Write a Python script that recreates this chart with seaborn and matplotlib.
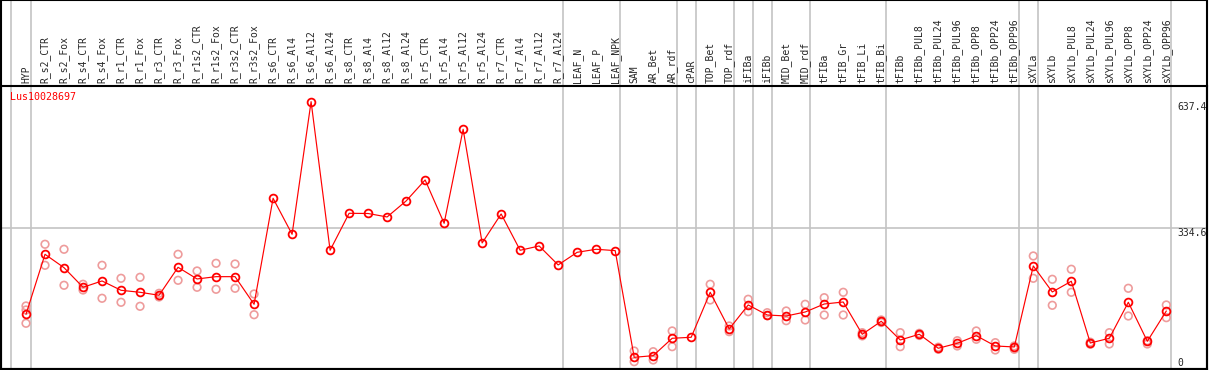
import numpy as np
import pandas as pd
import matplotlib
matplotlib.use('Agg')
import matplotlib.pyplot as plt
import seaborn as sns

nan = np.nan

# samples (x axis, written on top)
samples = ['HYP', 'R_s2_CTR', 'R_s2_Fox', 'R_s4_CTR', 'R_s4_Fox', 'R_r1_CTR', 'R_r1_Fox',
           'R_r3_CTR', 'R_r3_Fox', 'R_r1s2_CTR', 'R_r1s2_Fox', 'R_r3s2_CTR', 'R_r3s2_Fox',
           'R_s6_CTR', 'R_s6_Al4', 'R_s6_Al12', 'R_s6_Al24', 'R_s8_CTR', 'R_s8_Al4', 'R_s8_Al12',
           'R_s8_Al24', 'R_r5_CTR', 'R_r5_Al4', 'R_r5_Al12', 'R_r5_Al24', 'R_r7_CTR', 'R_r7_Al4',
           'R_r7_Al12', 'R_r7_Al24', 'LEAF_N', 'LEAF_P', 'LEAF_NPK', 'SAM', 'AR_Bet', 'AR_rdf',
           'cPAR', 'TOP_Bet', 'TOP_rdf', 'iFIBa', 'iFIBb', 'MID_Bet', 'MID_rdf', 'tFIBa',
           'tFIB_Gr', 'tFIB_Li', 'tFIB_Bi', 'tFIBb', 'tFIBb_PUL8', 'tFIBb_PUL24', 'tFIBb_PUL96',
           'tFIBb_OPP8', 'tFIBb_OPP24', 'tFIBb_OPP96', 'sXYLa', 'sXYLb', 'sXYLb_PUL8',
           'sXYLb_PUL24', 'sXYLb_PUL96', 'sXYLb_OPP8', 'sXYLb_OPP24', 'sXYLb_OPP96']

# mean expression
mean_expr = [128.7, 272.2, 240.2, 193.3, 208.4, 186.1, 181.3, 174.2, 241.1, 213.2, 218.7,
             218.7, 152.6, 406.2, 320.1, 637.4, 281.8, 370.3, 369.8, 361.5, 399.8, 450.0,
             346.4, 571.3, 299.3, 368.7, 281.8, 292.1, 246.7, 277.0, 284.2, 281.0, 25.8,
             29.7, 71.3, 73.7, 181.3, 93.5, 151.0, 127.0, 124.6, 134.2, 153.3, 158.1, 80.9,
             112.0, 67.2, 80.9, 47.4, 59.3, 77.5, 52.9, 50.5, 244.3, 182.1, 207.7, 60.0,
             71.3, 157.4, 64.1, 136.6]

# replicates
rep_1 = [148.6, 296.2, 284.2, 200.5, 245.9, 214.8, 217.2, 178.9, 272.2, 232.3, 250.7,
         249.0, 177.3, nan, nan, nan, nan, nan, nan, nan, nan, nan, nan, nan, nan, nan, nan,
         nan, nan, nan, nan, nan, 40.9, 39.2, 88.8, nan, 200.5, 100.7, 164.6, 132.5, 136.6,
         152.6, 168.4, 181.3, 84.7, 115.1, 84.7, 83.2, 45.0, 65.5, 88.8, 60.8, 52.9, 268.2,
         212.4, 236.4, 62.0, 84.7, 190.9, 65.5, 151.0]
rep_2 = [107.2, 245.9, 198.1, 186.8, 167.0, 157.4, 147.8, 170.1, 210.0, 193.3, 188.5,
         190.9, 127.7, nan, nan, nan, nan, nan, nan, nan, nan, nan, nan, nan, nan, nan, nan,
         nan, nan, nan, nan, nan, 15.3, 19.4, 51.2, nan, 162.9, 87.1, 134.9, 125.4, 113.4,
         115.1, 127.0, 127.0, 77.0, 109.0, 51.2, 78.0, 50.0, 52.9, 68.9, 43.3, 45.0, 214.8,
         150.2, 181.3, 57.0, 57.7, 124.6, 57.7, 120.6]
rep_3 = [139.0] + [nan] * 60

# group separators sit just after the last sample of each group
group_ends = [-1.05, 0, 28, 31, 34, 35, 37, 38, 39, 41, 45, 52, 53, 60]

y_ticks = [0, 334.6, 637.4]

x = np.arange(len(samples))
df_mean = pd.DataFrame({'pos': x, 'expr': mean_expr})
df_rep = pd.DataFrame({'pos': np.concatenate([x, x, x]),
                       'expr': rep_1 + rep_2 + rep_3}).dropna()

sns.set_style('white')
plt.rcParams['font.family'] = ['DejaVu Sans Mono', 'DejaVu Sans']

fig = plt.figure(figsize=(12.09, 3.70), dpi=100)
ax = fig.add_axes([1 / 1209, 1.5 / 370, 1206 / 1209, 283 / 370])

for g in group_ends:
    ax.axvline(g + 0.25, ymin=0, ymax=370 / 283, color='#c4c4c4', lw=1.2,
               clip_on=False, zorder=0)
ax.axhline(334.6, color='#c4c4c4', lw=1.2, zorder=0)

sns.scatterplot(data=df_rep, x='pos', y='expr', ax=ax, marker='o', s=30,
                facecolor='none', edgecolor='#ee9c9c', linewidth=1.2, zorder=2)
sns.lineplot(data=df_mean, x='pos', y='expr', ax=ax, color='red', lw=0.85,
             marker='o', markersize=5.6, markerfacecolor='none',
             markeredgecolor='red', markeredgewidth=1.3, zorder=3)

ax.set_xlim(-1.316, 62.14)
ax.set_ylim(-1, 676)

ax.xaxis.tick_top()
ax.set_xticks(x)
ax.set_xticklabels(samples, rotation=90, fontsize=7.0, va='bottom')
ax.tick_params(axis='x', length=0, pad=2)

ax.yaxis.tick_right()
ax.set_yticks(y_ticks)
ax.set_yticklabels(['0', '334.6', '637.4'], fontsize=7.0)
ax.tick_params(axis='y', length=0, pad=-21)
labs = ax.get_yticklabels()
labs[0].set_va('bottom')
labs[1].set_va('top')
labs[2].set_va('top')
for lab in labs:
    lab.set_ha('left')

ax.set_xlabel('')
ax.set_ylabel('')

for s in ax.spines.values():
    s.set_color('black')
    s.set_linewidth(1.5)

ax.text(0.0075, 0.977, 'Lus10028697', transform=ax.transAxes, color='red',
        fontsize=7.2, va='top', ha='left')

fig.add_artist(plt.Rectangle((1 / 1209, 1.5 / 370), 1206 / 1209, 368.5 / 370, fill=False,
                             ec='black', lw=1.5, transform=fig.transFigure))

fig.savefig('out.png', dpi=100)
